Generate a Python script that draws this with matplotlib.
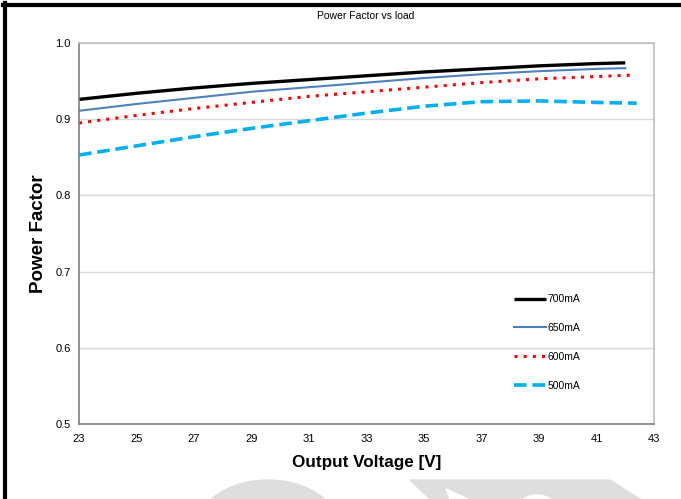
import matplotlib
matplotlib.use("Agg")
import matplotlib.pyplot as plt
from matplotlib.lines import Line2D
from matplotlib.patches import Ellipse, Polygon

plt.rcParams['font.family'] = ['Liberation Sans', 'DejaVu Sans']

x700 = [23, 25, 27, 29, 31, 33, 35, 37, 39, 41, 42]
y700 = [0.926, 0.934, 0.941, 0.947, 0.952, 0.957, 0.962, 0.966, 0.970, 0.973, 0.974]
x650 = [23, 25, 27, 29, 31, 33, 35, 37, 39, 41, 42]
y650 = [0.911, 0.920, 0.928, 0.936, 0.942, 0.948, 0.954, 0.959, 0.963, 0.966, 0.967]
x600 = [23, 25, 27, 29, 31, 33, 35, 37, 39, 41, 42.3]
y600 = [0.895, 0.905, 0.914, 0.922, 0.930, 0.936, 0.942, 0.948, 0.953, 0.956, 0.958]
x500 = [23, 25, 27, 29, 31, 33, 35, 37, 39, 41, 42.4]
y500 = [0.853, 0.865, 0.877, 0.888, 0.898, 0.908, 0.917, 0.923, 0.924, 0.922, 0.921]

xticks = [23, 25, 27, 29, 31, 33, 35, 37, 39, 41, 43]
yticks = [0.5, 0.6, 0.7, 0.8, 0.9, 1.0]

fig = plt.figure(figsize=(6.81, 4.99), dpi=100)
W, H = 681, 499
ax = fig.add_axes([79 / W, 1 - 424 / H, (654 - 79) / W, (424 - 43) / H])

ax.plot(x700, y700, color='black', lw=2.4, label='700mA', solid_capstyle='butt')
ax.plot(x650, y650, color='#4F81BD', lw=1.5, label='650mA')
ax.plot(x600, y600, color='#FF0000', lw=2.2, linestyle=(0, (1, 2.0)), dash_capstyle='butt', label='600mA')
ax.plot(x500, y500, color='#00B0F0', lw=2.6, linestyle=(0, (3.5, 1.6)), label='500mA')

ax.set_xlim(23, 43)
ax.set_ylim(0.5, 1.0)
ax.set_xticks(xticks)
ax.set_yticks(yticks)
ax.set_yticklabels([f"{v:.1f}" for v in yticks])
ax.tick_params(length=0, labelsize=8, pad=6)
ax.tick_params(axis='x', pad=7)
ax.yaxis.grid(True, color='#D9D9D9', lw=1)
ax.set_axisbelow(True)
for s in ['top', 'right']:
    ax.spines[s].set_color('#BFBFBF')
for s in ['left', 'bottom']:
    ax.spines[s].set_color('#7F7F7F')
for s in ax.spines.values():
    s.set_linewidth(1.2)

ax.set_xlabel('Output Voltage [V]', fontsize=12.3, fontweight='bold', labelpad=8)
ax.set_ylabel('Power Factor', fontsize=13.5, fontweight='bold', labelpad=6)
fig.text(366 / W, 1 - 16 / H, 'Power Factor vs load', ha='center', va='center', fontsize=7.5)

leg = ax.legend(loc='upper left', bbox_to_anchor=(426 / 575, 1 - 242 / 381), frameon=False,
                fontsize=7.5, handlelength=3.0, handletextpad=0.2, labelspacing=1.8)

# frame lines of the page
fig.add_artist(Line2D([4.5 / W, 4.5 / W], [0, 1 - 3 / H], color='black', lw=3, transform=fig.transFigure))
fig.add_artist(Line2D([3 / W, 1], [1 - 5 / H, 1 - 5 / H], color='black', lw=3, transform=fig.transFigure))

# faint watermark
g = '#DEDEDE'
tf = fig.transFigure
def P(x, y):
    return (x / W, 1 - y / H)
fig.add_artist(Ellipse(P(268, 535), 150 / W, 110 / H, color=g, transform=tf, zorder=-1))
fig.add_artist(Polygon([P(410, 480), P(610, 480), P(640, 499), P(430, 499)],
                       closed=True, color=g, transform=tf, zorder=-1))
fig.add_artist(Polygon([P(446, 489), P(468, 499), P(450, 499)],
                       closed=True, color='white', transform=tf, zorder=-1))
fig.add_artist(Ellipse(P(537, 507), 36 / W, 24 / H, color='white', transform=tf, zorder=-1))

fig.savefig('out.png', dpi=100)
